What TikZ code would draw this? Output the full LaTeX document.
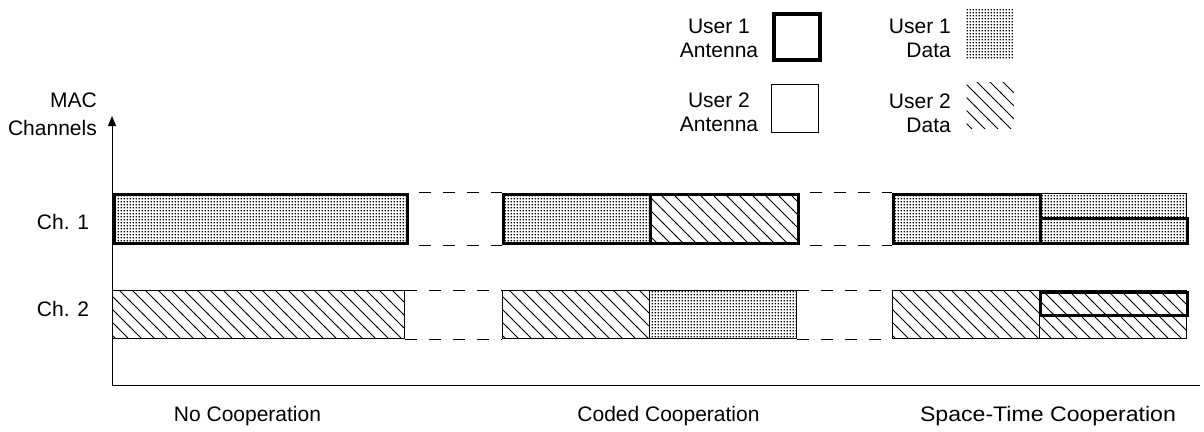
\documentclass[tikz,border=0pt]{standalone}
\usepackage{fontspec}
\setmainfont{Liberation Sans}
\usetikzlibrary{patterns,arrows.meta}
\pgfdeclarepatternformonly{udots}{\pgfpoint{0pt}{0pt}}{\pgfpoint{3pt}{3pt}}{\pgfpoint{3pt}{3pt}}{%
  \pgfpathrectangle{\pgfpoint{0.7pt}{0.7pt}}{\pgfpoint{1.7pt}{1.7pt}}\pgfusepath{fill}}
\pgfdeclarepatternformonly{uhatch}{\pgfpoint{-1pt}{-1pt}}{\pgfpoint{14pt}{14pt}}{\pgfpoint{13pt}{13pt}}{%
  \pgfsetlinewidth{0.8pt}%
  \pgfpathmoveto{\pgfpoint{-1pt}{14pt}}\pgfpathlineto{\pgfpoint{14pt}{-1pt}}\pgfusepath{stroke}}
\begin{document}
\begin{tikzpicture}[x=1pt,y=-1pt,
  every node/.style={font=\fontsize{21}{24}\selectfont},
  lbl/.style={inner sep=0pt},
  box/.style={draw,rectangle,inner sep=0pt,line width=1pt,anchor=north west},
  dotsfill/.style={pattern=udots},
  hatchfill/.style={pattern=uhatch},
  thickbox/.style={line width=3.5pt},
  rowline/.style={line width=1pt},
  gapline/.style={line width=1pt,dash pattern=on 12pt off 12pt}
]
\useasboundingbox (0,0) rectangle (1204,431);
% axes
\coordinate (o) at (112,385);
\coordinate (ytop) at (112,116);
\coordinate (xend) at (1200,385);
\draw[line width=1pt,-{Triangle[width=8pt,length=10pt]}] (o) -- (ytop);
\draw[line width=1pt] (o) -- (xend);
\node[lbl,align=right,anchor=east] (maclbl) at (97,114) {MAC\\[4pt]Channels};
\node[lbl] (ch1) at (63,222) {Ch. 1};
\node[lbl] (ch2) at (63,309) {Ch. 2};
% group 1
\node[box,dotsfill,thickbox,minimum width=293pt,minimum height=49pt] (g1a) at (112.5,192.5) {};
\node[box,hatchfill,minimum width=292pt,minimum height=48pt] (g1b) at (112,290) {};
% group 2
\node[box,dotsfill,thickbox,minimum width=147pt,minimum height=49pt] (g2a) at (501.5,192.5) {};
\node[box,hatchfill,thickbox,minimum width=148pt,minimum height=49pt] (g2b) at (648.5,192.5) {};
\node[box,hatchfill,minimum width=147pt,minimum height=48pt] (g2c) at (501.5,290) {};
\node[box,dotsfill,minimum width=147pt,minimum height=48pt] (g2d) at (648.5,290) {};
% group 3
\node[box,dotsfill,thickbox,minimum width=147pt,minimum height=49pt] (g3a) at (891.5,192.5) {};
\node[box,dotsfill,minimum width=147pt,minimum height=49pt] (g3b) at (1038.5,192.5) {};
\node[box,thickbox,minimum width=147pt,minimum height=25pt] (g3bb) at (1038.5,216.5) {};
\node[box,hatchfill,minimum width=147pt,minimum height=48pt] (g3c) at (891.5,290) {};
\node[box,hatchfill,minimum width=147pt,minimum height=48pt] (g3d) at (1038.5,290) {};
\node[box,thickbox,minimum width=147pt,minimum height=23pt] (g3dd) at (1038.5,290.5) {};
% channel row lines between groups
\draw[gapline,dash phase=14pt] (g1a.north east) -- (g2a.north west);
\draw[gapline,dash phase=14pt] (g1a.south east) -- (g2a.south west);
\draw[gapline,dash phase=14pt] (g2b.north east) -- (g3a.north west);
\draw[gapline,dash phase=14pt] (g2b.south east) -- (g3a.south west);
\draw[gapline] (g1b.north east) -- (g2c.north west);
\draw[gapline] (g1b.south east) -- (g2c.south west);
\draw[gapline] (g2d.north east) -- (g3c.north west);
\draw[gapline] (g2d.south east) -- (g3c.south west);
% legend
\node[box,thickbox,minimum width=46pt,minimum height=46pt] (lega1) at (772,12) {};
\node[box,minimum width=47pt,minimum height=48pt] (lega2) at (770.5,83.5) {};
\node[box,draw=none,dotsfill,minimum width=48pt,minimum height=49pt] (legd1) at (965,9) {};
\node[box,draw=none,hatchfill,minimum width=47pt,minimum height=46pt] (legd2) at (966,82) {};
\node[lbl,align=center] (la1) at (719,38) {User 1\\Antenna};
\node[lbl,align=center] (la2) at (719,112) {User 2\\Antenna};
\node[lbl,align=right,anchor=east] (ld1) at (951,38) {User 1\\Data};
\node[lbl,align=right,anchor=east] (ld2) at (951,113) {User 2\\Data};
% bottom labels
\node[lbl] (l1) at (247.5,416) {No Cooperation};
\node[lbl] (l2) at (668.5,416) {Coded Cooperation};
\node[lbl] (l3) at (1048,416) {\scalebox{1.1}[1]{Space-Time Cooperation}};
\end{tikzpicture}
\end{document}
